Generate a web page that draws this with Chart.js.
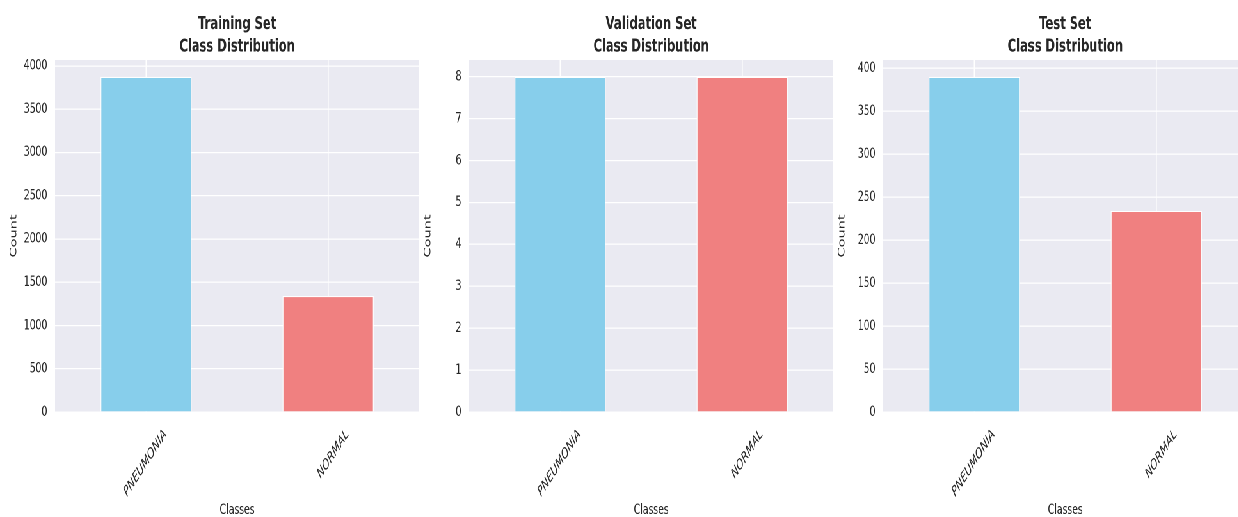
<!DOCTYPE html>
<html>
<head>
<meta charset="utf-8">
<script src="https://cdn.jsdelivr.net/npm/chart.js@4.4.1/dist/chart.umd.min.js"></script>
<style>
  html, body { margin: 0; padding: 0; background: #ffffff; overflow: hidden; }
  #frame { position: absolute; left: 0; top: 0; width: 1238px; height: 517px; overflow: hidden; }
  #stage { position: absolute; left: 0; top: 0; width: 1934px; height: 517px; transform: scaleX(0.64); transform-origin: 0 0; }
  .panel { position: absolute; top: 0; width: 655px; height: 517px; }
</style>
</head>
<body>
<div id="frame">
  <div id="stage">
    <div class="panel" style="left:0px"><canvas id="c0"></canvas></div>
    <div class="panel" style="left:647px"><canvas id="c1"></canvas></div>
    <div class="panel" style="left:1294px"><canvas id="c2"></canvas></div>
  </div>
</div>
<script>
// ---- data ----
const categories = ['PNEUMONIA', 'NORMAL'];
const trainCounts = [3875, 1341];
const valCounts = [8, 8];
const testCounts = [390, 234];
const panelTitles = [
  ['Training Set', 'Class Distribution'],
  ['Validation Set', 'Class Distribution'],
  ['Test Set', 'Class Distribution']
];
const tickSteps = [500, 1, 50];
const barColors = ['#87CEEB', '#F08080'];
const xAxisLabel = 'Classes';
const yAxisLabel = 'Count';

const FONT = "'DejaVu Sans', sans-serif";
const TEXT = '#262626';

const bgPlugin = {
  id: 'plotBg',
  beforeDraw(chart) {
    const a = chart.chartArea;
    const ctx = chart.ctx;
    ctx.save();
    ctx.fillStyle = '#EAEAF2';
    ctx.fillRect(a.left, a.top, a.right - a.left, a.bottom - a.top);
    ctx.restore();
  }
};

function makeChart(id, values, title, step) {
  const ymax = Math.max(...values) * 1.05;
  return new Chart(document.getElementById(id), {
    type: 'bar',
    data: {
      labels: categories,
      datasets: [{
        data: values,
        backgroundColor: barColors,
        borderColor: '#ffffff',
        borderWidth: 1.2,
        barPercentage: 0.5,
        categoryPercentage: 1.0
      }]
    },
    options: {
      responsive: true,
      maintainAspectRatio: false,
      devicePixelRatio: 2,
      animation: false,
      layout: { padding: 0 },
      plugins: {
        legend: { display: false },
        tooltip: { enabled: false },
        title: {
          display: true,
          text: title,
          fullSize: false,
          color: TEXT,
          font: { family: FONT, size: 18, weight: 'bold', lineHeight: 1.25 },
          padding: { top: 13, bottom: 2 }
        }
      },
      scales: {
        x: {
          type: 'category',
          offset: true,
          grid: { display: true, offset: false, color: '#ffffff', lineWidth: 1.6, drawTicks: false },
          border: { display: false },
          ticks: {
            color: TEXT,
            font: { family: FONT, size: 14.5, style: 'italic' },
            minRotation: 45,
            maxRotation: 45,
            autoSkip: false,
            padding: 14,
            labelOffset: 30
          },
          title: {
            display: true,
            text: xAxisLabel,
            color: TEXT,
            font: { family: FONT, size: 14.5 },
            padding: { top: 0, bottom: -2 }
          },
          afterFit(scale) { scale.height = 105; }
        },
        y: {
          min: 0,
          max: ymax,
          grid: { color: '#ffffff', lineWidth: 1.3, drawTicks: false },
          border: { display: false },
          ticks: {
            color: TEXT,
            font: { family: FONT, size: 14.5 },
            padding: 12,
            callback: (v) => String(v)
          },
          afterBuildTicks(scale) {
            const t = [];
            for (let v = 0; v <= ymax + 1e-9; v += step) t.push({ value: v });
            scale.ticks = t;
          },
          title: {
            display: true,
            text: yAxisLabel,
            color: TEXT,
            font: { family: FONT, size: 14.5 },
            padding: { top: 13, bottom: 0 }
          },
          afterFit(scale) { scale.width = 86; }
        }
      }
    },
    plugins: [bgPlugin]
  });
}

makeChart('c0', trainCounts, panelTitles[0], tickSteps[0]);
makeChart('c1', valCounts, panelTitles[1], tickSteps[1]);
makeChart('c2', testCounts, panelTitles[2], tickSteps[2]);
</script>
</body>
</html>
